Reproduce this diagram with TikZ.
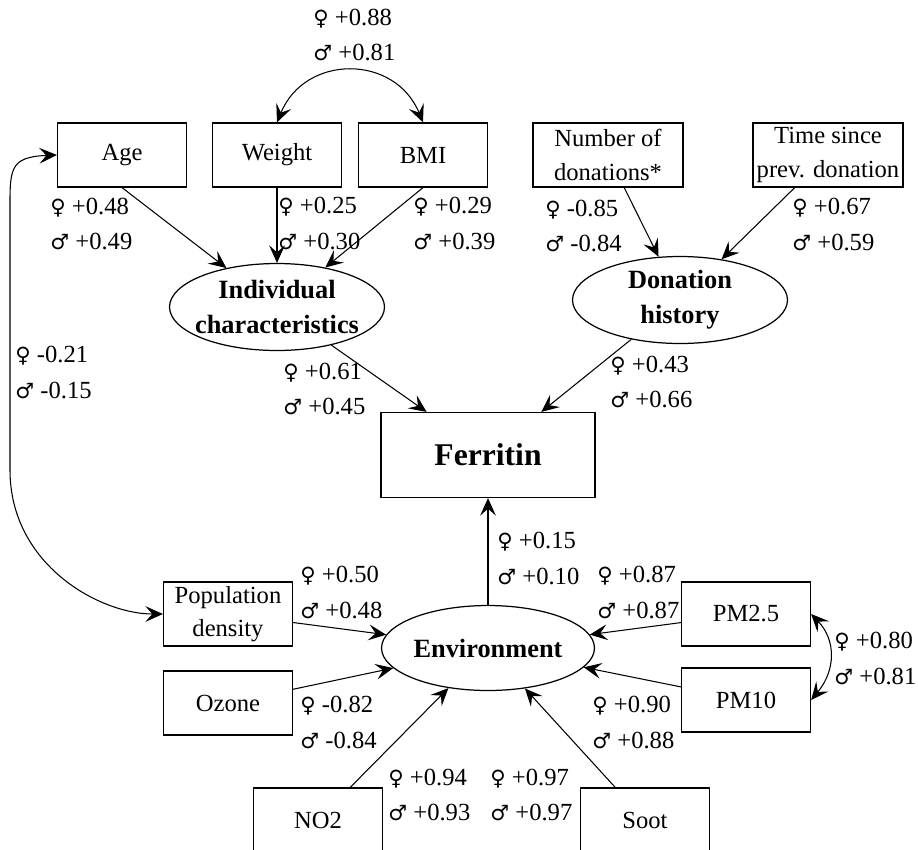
\documentclass[tikz,border=0pt]{standalone}
\usepackage{fontspec}
\setmainfont{Liberation Serif}
\newfontfamily\symfont{DejaVu Sans}
\usetikzlibrary{shapes.geometric,arrows.meta}
\newcommand{\femsym}{{\symfont\fontsize{12}{12}\selectfont ♀}}
\newcommand{\malsym}{{\symfont\fontsize{12}{12}\selectfont ♂}}
\newcommand{\sexpair}[2]{\femsym\ #1\\\malsym\ #2}
\newcommand{\cw}[1]{\makebox[0pt]{#1}}
\tikzstyle{var}=[rectangle,draw,line width=0.7pt,minimum width=2.58cm,minimum height=1.28cm,align=center,inner sep=1pt,font=\fontsize{14}{19}\selectfont]
\tikzstyle{widevar}=[var,minimum width=3cm]
\tikzstyle{latent}=[ellipse,draw,line width=0.7pt,minimum width=4.3cm,minimum height=1.74cm,align=center,inner sep=0pt,font=\fontsize{15}{20}\selectfont\bfseries]
\tikzstyle{edge} = [draw,line width=0.6pt,-{Stealth[length=10pt,width=9pt,inset=4pt]}]
\tikzstyle{cov} = [draw,line width=0.6pt,{Stealth[length=10pt,width=9pt,inset=4pt]}-{Stealth[length=10pt,width=9pt,inset=4pt]}]
\tikzstyle{coef} = [anchor=west,align=left,inner sep=0pt,font=\fontsize{14}{20}\selectfont]

\begin{document}
\begin{tikzpicture}[x=0.02cm,y=-0.02cm]
        \useasboundingbox (0,0) rectangle (918,849);
        % observed variables
        \node[var] (age) at (122,155) {Age};
        \node[var] (weight) at (277,155) {Weight};
        \node[var] (bmi) at (423,155) {BMI};
        \node[widevar] (num) at (608,155) {Number of\\donations*};
        \node[widevar] (time) at (828,155) {Time since\\prev. donation};
        \node[var] (pop) at (228,614) {Population\\density};
        \node[var] (ozone) at (228,703) {Ozone};
        \node[var] (pm25) at (746,614) {PM2.5};
        \node[var] (pm10) at (746,700) {PM10};
        \node[var] (no2) at (318,820) {NO2};
        \node[var] (soot) at (645,820) {Soot};
        % latent variables
        \node[latent] (indiv) at (277,307) {\cw{Individual}\\\cw{characteristics}};
        \node[latent] (donhist) at (680,300) {\cw{Donation}\\\cw{history}};
        \node[latent,minimum width=4.26cm,minimum height=1.7cm] (env) at (488,648) {\cw{Environment}};
        \node[rectangle,draw,line width=0.7pt,minimum width=4.28cm,minimum height=1.7cm,font=\fontsize{18}{20}\selectfont\bfseries] (ferritin) at (488,455) {Ferritin};

        \path[edge] (age.south) -- (indiv);
        \path[edge] (weight) -- (indiv);
        \path[edge] (bmi.south) -- (indiv);
        \path[edge] (num) -- (donhist);
        \path[edge] (time) -- (donhist);
        \path[edge] (indiv) -- (ferritin);
        \path[edge] (donhist) -- (ferritin);
        \path[edge] (env) -- (ferritin);
        \path[edge] (pop) -- (env);
        \path[edge] (ozone) -- (env);
        \path[edge] (no2) -- (env);
        \path[edge] (soot) -- (env);
        \path[edge] (pm25) -- (env);
        \path[edge] (pm10) -- (env);
        \path[cov] (weight.north) .. controls (305,54) and (395,54) .. (bmi.north);
        \path[cov] (pm25.east) .. controls (836,640) and (836,670) .. (pm10.east);
        \path[cov] (age.west) .. controls (8,157) and (10,170) .. (10,215) -- (10,470) .. controls (10,565) and (100,614) .. (pop.west);

        % path coefficients
        \node[coef] (l_wb) at (313,35) {\sexpair{+0.88}{+0.81}};
        \node[coef] (l_age) at (50,224) {\sexpair{+0.48}{+0.49}};
        \node[coef] (l_weight) at (278,223.5) {\sexpair{+0.25}{+0.30}};
        \node[coef] (l_bmi) at (413,223.5) {\sexpair{+0.29}{+0.39}};
        \node[coef] (l_num) at (545,226) {\sexpair{-0.85}{-0.84}};
        \node[coef] (l_time) at (792,224.5) {\sexpair{+0.67}{+0.59}};
        \node[coef] (l_indfer) at (283,389) {\sexpair{+0.61}{+0.45}};
        \node[coef] (l_donfer) at (610,382) {\sexpair{+0.43}{+0.66}};
        \node[coef] (l_agepop) at (15,372.5) {\sexpair{-0.21}{-0.15}};
        \node[coef] (l_envfer) at (497,558.5) {\sexpair{+0.15}{+0.10}};
        \node[coef] (l_pop) at (300,592.5) {\sexpair{+0.50}{+0.48}};
        \node[coef] (l_pm25) at (597,592.5) {\sexpair{+0.87}{+0.87}};
        \node[coef] (l_pmcov) at (834,658.5) {\sexpair{+0.80}{+0.81}};
        \node[coef] (l_ozone) at (300,722.5) {\sexpair{-0.82}{-0.84}};
        \node[coef] (l_pm10) at (592,722.5) {\sexpair{+0.90}{+0.88}};
        \node[coef] (l_no2) at (388,795) {\sexpair{+0.94}{+0.93}};
        \node[coef] (l_soot) at (490,795) {\sexpair{+0.97}{+0.97}};
    \end{tikzpicture}
\end{document}
